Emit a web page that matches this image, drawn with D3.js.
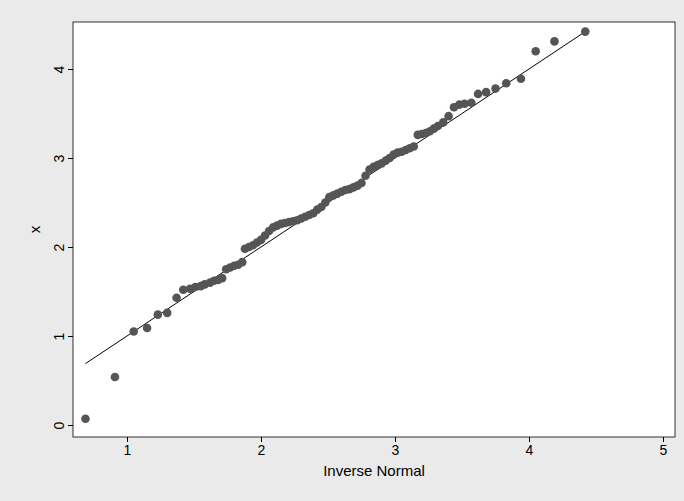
<!DOCTYPE html>
<html><head><meta charset="utf-8">
<script src="https://cdn.jsdelivr.net/npm/d3@7"></script>
<style>body{margin:0;background:#eaeaea}</style>
</head><body>
<script>
var points = [[0.69,0.07],[0.91,0.54],[1.05,1.05],[1.15,1.09],[1.23,1.24],[1.30,1.26],[1.37,1.43],[1.42,1.52],[1.47,1.53],[1.51,1.55],[1.55,1.56],[1.58,1.58],[1.62,1.60],[1.65,1.62],[1.68,1.63],[1.71,1.65],[1.74,1.75],[1.77,1.77],[1.80,1.79],[1.83,1.80],[1.86,1.83],[1.88,1.98],[1.91,2.00],[1.94,2.02],[1.97,2.05],[2.00,2.08],[2.03,2.13],[2.06,2.18],[2.09,2.22],[2.12,2.24],[2.15,2.26],[2.18,2.27],[2.21,2.28],[2.24,2.29],[2.27,2.30],[2.30,2.32],[2.33,2.34],[2.36,2.36],[2.39,2.38],[2.42,2.42],[2.45,2.45],[2.48,2.50],[2.51,2.56],[2.54,2.58],[2.57,2.60],[2.60,2.62],[2.63,2.64],[2.66,2.65],[2.69,2.67],[2.72,2.69],[2.75,2.72],[2.78,2.80],[2.81,2.87],[2.84,2.90],[2.87,2.92],[2.90,2.94],[2.93,2.97],[2.96,3.00],[2.99,3.04],[3.02,3.06],[3.05,3.07],[3.08,3.09],[3.11,3.11],[3.14,3.13],[3.17,3.26],[3.20,3.27],[3.23,3.28],[3.26,3.30],[3.29,3.33],[3.32,3.36],[3.36,3.40],[3.40,3.47],[3.44,3.57],[3.48,3.60],[3.52,3.61],[3.57,3.62],[3.62,3.72],[3.68,3.74],[3.75,3.78],[3.83,3.84],[3.94,3.89],[4.05,4.20],[4.19,4.31],[4.42,4.42]]
var refLine = [0.69, 4.42]
var xTicks = [1,2,3,4,5]
var yTicks = [0,1,2,3,4]

var W = 684, H = 501
var svg = d3.select('body').append('svg').attr('width', W).attr('height', H)
  .style('font-family', 'Liberation Sans, Arial, sans-serif')

var x = d3.scaleLinear().domain([1,5]).range([127,663])
var y = d3.scaleLinear().domain([0,4]).range([425,69])
var L = 73, R = 675, T = 22, B = 437

svg.append('rect').attr('x',L).attr('y',T).attr('width',R-L).attr('height',B-T)
  .attr('fill','#fff').attr('stroke','#000').attr('stroke-width',0.8)

var xa = svg.append('g').attr('transform','translate(0,'+B+')')
  .call(d3.axisBottom(x).tickValues(xTicks).tickSize(5).tickFormat(d3.format('d')))
xa.select('.domain').remove()
xa.selectAll('text').attr('font-size',14).attr('fill','#000')

var ya = svg.append('g').attr('transform','translate('+L+',0)')
  .call(d3.axisLeft(y).tickValues(yTicks).tickSize(5).tickFormat(d3.format('d')))
ya.select('.domain').remove()
ya.selectAll('.tick text').attr('font-size',14).attr('fill','#000')
  .attr('x',0).attr('dy',null).attr('text-anchor','middle')
  .attr('transform','translate(-9,0) rotate(-90)')

svg.append('line').attr('x1',x(refLine[0])).attr('y1',y(refLine[0]))
  .attr('x2',x(refLine[1])).attr('y2',y(refLine[1])).attr('stroke','#000').attr('stroke-width',1)

svg.selectAll('circle.p').data(points).enter().append('circle').attr('class','p')
  .attr('cx', function(d){ return x(d[0]) }).attr('cy', function(d){ return y(d[1]) })
  .attr('r',4.3).attr('fill','#555')

svg.append('text').attr('x',(L+R)/2).attr('y',476).attr('text-anchor','middle')
  .attr('font-size',15).text('Inverse Normal')
svg.append('text').attr('transform','translate(40,'+((T+B)/2)+') rotate(-90)')
  .attr('text-anchor','middle').attr('font-size',15).text('x')
</script>
</body></html>
